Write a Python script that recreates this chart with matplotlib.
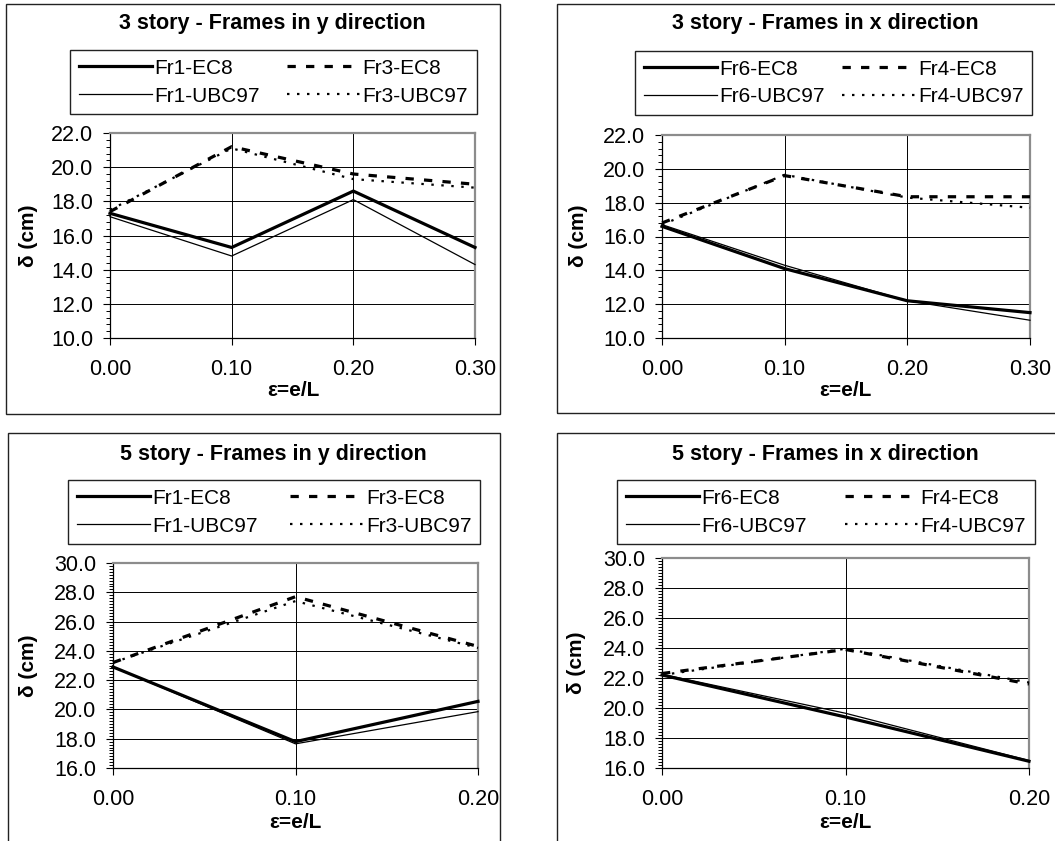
import matplotlib
matplotlib.use("Agg")
import matplotlib.pyplot as plt
from matplotlib.patches import Rectangle
from matplotlib.ticker import MultipleLocator, FormatStrFormatter

plt.rcParams['font.family'] = ['Liberation Sans', 'DejaVu Sans']

W, H = 1055, 841

# ---------------- data ----------------
x3 = [0.00, 0.10, 0.20, 0.30]
x5 = [0.00, 0.10, 0.20]

# 3 story - y direction
p1_fr1_ec8 = [17.3, 15.3, 18.6, 15.3]
p1_fr1_ubc = [17.1, 14.8, 18.1, 14.3]
p1_fr3_ec8 = [17.4, 21.2, 19.6, 19.0]
p1_fr3_ubc = [17.5, 21.1, 19.3, 18.8]

# 3 story - x direction
p2_fr6_ec8 = [16.6, 14.1, 12.2, 11.5]
p2_fr6_ubc = [16.7, 14.3, 12.2, 11.05]
p2_fr4_ec8 = [16.8, 19.6, 18.35, 18.35]
p2_fr4_ubc = [16.7, 19.65, 18.3, 17.7]

# 5 story - y direction
p3_fr1_ec8 = [22.9, 17.8, 20.55]
p3_fr1_ubc = [22.9, 17.65, 19.85]
p3_fr3_ec8 = [23.2, 27.7, 24.3]
p3_fr3_ubc = [23.2, 27.4, 24.2]

# 5 story - x direction
p4_fr6_ec8 = [22.2, 19.4, 16.45]
p4_fr6_ubc = [22.25, 19.65, 16.5]
p4_fr4_ec8 = [22.3, 23.9, 21.6]
p4_fr4_ubc = [22.2, 23.95, 21.7]

titles = ["3 story - Frames in y direction", "3 story - Frames in x direction",
          "5 story - Frames in y direction", "5 story - Frames in x direction"]
labels_y = ["Fr1-EC8", "Fr1-UBC97", "Fr3-EC8", "Fr3-UBC97"]
labels_x = ["Fr6-EC8", "Fr6-UBC97", "Fr4-EC8", "Fr4-UBC97"]
xlabel = "ε=e/L"
ylabel = "δ (cm)"

fig = plt.figure(figsize=(W / 100, H / 100), dpi=100)


def fx(px):
    return px / W


def fy(py):
    return 1 - py / H


panels = [
    dict(ax=(110, 133, 475, 338), x=x3, ys=[p1_fr1_ec8, p1_fr1_ubc, p1_fr3_ec8, p1_fr3_ubc],
         labels=labels_y, ylim=(10, 22), xlim=(0, 0.3), minor=0.4,
         frame=(6, 4, 500, 414), title=(272, 23), leg=(70, 50, 477, 115),
         ylab=(28, 236), xlab=(293, 390)),
    dict(ax=(662, 135, 1030, 338), x=x3, ys=[p2_fr6_ec8, p2_fr6_ubc, p2_fr4_ec8, p2_fr4_ubc],
         labels=labels_x, ylim=(10, 22), xlim=(0, 0.3), minor=0.4,
         frame=(557, 4, 1060, 413), title=(825, 23), leg=(635, 51, 1032, 113),
         ylab=(578, 236), xlab=(845, 391)),
    dict(ax=(113, 563, 478, 768), x=x5, ys=[p3_fr1_ec8, p3_fr1_ubc, p3_fr3_ec8, p3_fr3_ubc],
         labels=labels_y, ylim=(16, 30), xlim=(0, 0.2), minor=0.2,
         frame=(8, 433, 500, 850), title=(273, 455), leg=(68, 480, 480, 543),
         ylab=(28, 666), xlab=(295, 822)),
    dict(ax=(662, 558, 1029, 768), x=x5, ys=[p4_fr6_ec8, p4_fr6_ubc, p4_fr4_ec8, p4_fr4_ubc],
         labels=labels_x, ylim=(16, 30), xlim=(0, 0.2), minor=0.2,
         frame=(557, 433, 1060, 850), title=(825, 455), leg=(617, 480, 1035, 539),
         ylab=(576, 663), xlab=(845, 822)),
]

styles = [
    dict(color='black', lw=2.3, ls='-'),
    dict(color='black', lw=0.9, ls='-'),
    dict(color='black', lw=2.3, ls=(0, (2.6, 3.2))),
    dict(color='black', lw=1.6, ls=(0, (1.1, 3.4))),
]

for i, p in enumerate(panels):
    # outer chart frame
    fx0, fy0, fx1, fy1 = p['frame']
    fig.add_artist(Rectangle((fx(fx0), fy(fy1)), fx(fx1 - fx0), (fy1 - fy0) / H,
                             transform=fig.transFigure, fill=False, edgecolor='#222222',
                             lw=1.0, clip_on=False))
    l, t, r, b = p['ax']
    ax = fig.add_axes([fx(l), fy(b), fx(r - l), (b - t) / H])
    handles = []
    for ys, st, lab in zip(p['ys'], styles, p['labels']):
        h, = ax.plot(p['x'], ys, color=st['color'], lw=st['lw'], linestyle=st['ls'],
                     label=lab, solid_joinstyle='miter', clip_on=False, zorder=3)
        handles.append(h)
    ax.set_xlim(*p['xlim'])
    ax.set_ylim(*p['ylim'])
    ax.set_xticks(p['x'])
    ax.xaxis.set_major_formatter(FormatStrFormatter('%.2f'))
    ax.yaxis.set_major_locator(MultipleLocator(2))
    ax.yaxis.set_minor_locator(MultipleLocator(p['minor']))
    ax.yaxis.set_major_formatter(FormatStrFormatter('%.1f'))
    ax.grid(True, which='major', color='black', lw=0.7)
    ax.set_axisbelow(True)
    ax.tick_params(axis='both', which='major', direction='out', length=5, width=0.8,
                   labelsize=15.5, color='black')
    ax.tick_params(axis='x', pad=10)
    ax.tick_params(axis='y', pad=7)
    ax.tick_params(axis='y', which='minor', direction='out', length=3, width=0.7)
    for s in ['left', 'bottom']:
        ax.spines[s].set_color('black')
        ax.spines[s].set_linewidth(0.9)
    for s in ['top', 'right']:
        ax.spines[s].set_color('#8c8c8c')
        ax.spines[s].set_linewidth(1.6)

    tx, ty = p['title']
    fig.text(fx(tx), fy(ty), titles[i], ha='center', va='center', fontsize=15.5,
             fontweight='bold')
    yx, yy = p['ylab']
    fig.text(fx(yx), fy(yy), ylabel, ha='center', va='center', rotation=90,
             fontsize=15, fontweight='bold')
    xx, xy = p['xlab']
    fig.text(fx(xx), fy(xy), xlabel, ha='center', va='center', fontsize=15,
             fontweight='bold')

    lx0, ly0, lx1, ly1 = p['leg']
    leg = ax.legend(handles=handles, ncol=2, loc='upper left',
                    bbox_to_anchor=(fx(lx0), fy(ly0), fx(lx1 - lx0), 0),
                    bbox_transform=fig.transFigure, mode='expand',
                    fontsize=15, frameon=True, fancybox=False, edgecolor='#222222',
                    framealpha=1, handlelength=3.5, handletextpad=0.12,
                    labelspacing=0.42, borderpad=0.42, borderaxespad=0,
                    columnspacing=1.0)
    leg.get_frame().set_linewidth(1.0)

fig.savefig('out.png', dpi=100)
